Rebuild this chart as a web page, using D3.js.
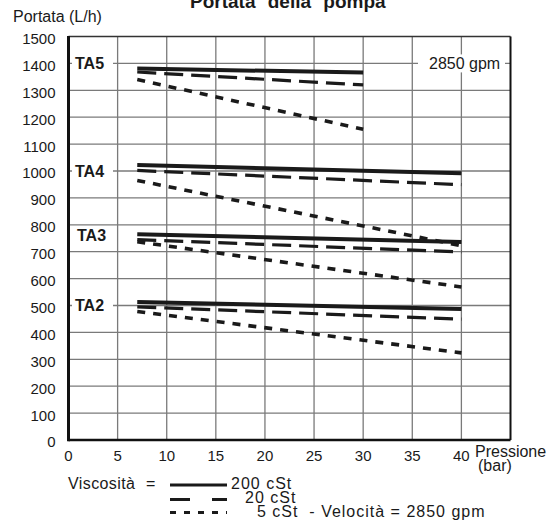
<!DOCTYPE html>
<html lang="it">
<head>
  <meta charset="utf-8">
  <title>Portata della pompa</title>
  <script src="https://d3js.org/d3.v7.min.js"></script>
  <style>
    body { margin: 0; background: #fff; }
    svg text { font-family: "Liberation Sans", Arial, Helvetica, sans-serif; fill: #1a1a1a; }
    .tick-label { font-size: 15px; }
    .label { font-size: 16px; }
    .legend { font-size: 16px; letter-spacing: 1px; white-space: pre; }
    .model { font-size: 16px; font-weight: bold; }
    .grid line { stroke: #7a7a7a; stroke-width: 1.3; }
  </style>
</head>
<body>
<svg id="chart" width="547" height="524"></svg>
<script>
// values
var xTicks = [0, 5, 10, 15, 20, 25, 30, 35, 40];
var yTicks = [0, 100, 200, 300, 400, 500, 600, 700, 800, 900, 1000, 1100, 1200, 1300, 1400, 1500];

var models = ["TA5", "TA4", "TA3", "TA2"];
var modelLabelY = [1400, 1000, 760, 500];   // where the model name sits (flow value)

// [pressure bar, flow L/h] at start and end of each curve
var ta5_200 = [[7, 1381], [30, 1366]];
var ta5_20  = [[7, 1368], [30, 1320]];
var ta5_5   = [[7, 1340], [30, 1155]];

var ta4_200 = [[7, 1022], [40, 992]];
var ta4_20  = [[7, 1002], [40, 949]];
var ta4_5   = [[7, 965],  [40, 722]];

var ta3_200 = [[7, 765], [40, 736]];
var ta3_20  = [[7, 745], [40, 699]];
var ta3_5   = [[7, 737], [40, 569]];

var ta2_200 = [[7, 513], [40, 487]];
var ta2_20  = [[7, 495], [40, 449]];
var ta2_5   = [[7, 478], [40, 324]];

var viscosity = ["200 cSt", "20 cSt", "5 cSt  - Velocità = 2850 gpm"];

var styles = {
  "200": { width: 4, dash: null },
  "20":  { width: 3.2, dash: "19,8" },
  "5":   { width: 3.6, dash: "8,8" }
};

var curves = [
  { d: ta5_200, s: "200" }, { d: ta5_20, s: "20" }, { d: ta5_5, s: "5" },
  { d: ta4_200, s: "200" }, { d: ta4_20, s: "20" }, { d: ta4_5, s: "5" },
  { d: ta3_200, s: "200" }, { d: ta3_20, s: "20" }, { d: ta3_5, s: "5" },
  { d: ta2_200, s: "200" }, { d: ta2_20, s: "20" }, { d: ta2_5, s: "5" }
];

var svg = d3.select("#chart");

var x = d3.scaleLinear().domain([0, 45]).range([68.5, 510.5]);
var y = d3.scaleLinear().domain([0, 1500]).range([440, 36.5]);

// grid
var grid = svg.append("g").attr("class", "grid");
grid.selectAll("line.v")
  .data(xTicks.filter(function(d) { return d > 0; }))
  .enter().append("line")
    .attr("x1", function(d) { return x(d); })
    .attr("x2", function(d) { return x(d); })
    .attr("y1", y(0)).attr("y2", y(1500));
grid.selectAll("line.h")
  .data(yTicks.filter(function(d) { return d > 0 && d < 1500; }))
  .enter().append("line")
    .attr("x1", x(0)).attr("x2", x(45))
    .attr("y1", function(d) { return y(d); })
    .attr("y2", function(d) { return y(d); });

// frame
svg.append("line").attr("x1", x(0)).attr("x2", x(45)).attr("y1", y(1500)).attr("y2", y(1500))
  .attr("stroke", "#333").attr("stroke-width", 1.3);
svg.append("line").attr("x1", x(45)).attr("x2", x(45)).attr("y1", y(1500)).attr("y2", y(0))
  .attr("stroke", "#111").attr("stroke-width", 2);
svg.append("line").attr("x1", x(0)).attr("x2", x(45)).attr("y1", y(0)).attr("y2", y(0))
  .attr("stroke", "#111").attr("stroke-width", 2.6);
svg.append("line").attr("x1", x(0)).attr("x2", x(0)).attr("y1", y(1500) - 0.6).attr("y2", y(0) + 1.3)
  .attr("stroke", "#111").attr("stroke-width", 3);

// model labels with white box breaking the grid line
models.forEach(function(m, i) {
  var cy = y(modelLabelY[i]);
  if (m !== "TA3") {
    svg.append("rect").attr("x", 72).attr("y", cy - 9).attr("width", 41).attr("height", 18).attr("fill", "#fff");
  }
  svg.append("text").attr("class", "model")
    .attr("x", m === "TA3" ? 77 : 75).attr("y", cy).attr("dy", "0.36em")
    .text(m);
});

// speed label on the 1400 line
svg.append("rect").attr("x", 418).attr("y", y(1400) - 9).attr("width", 87).attr("height", 18).attr("fill", "#fff");
svg.append("text").attr("class", "label")
  .attr("x", 429).attr("y", y(1400)).attr("dy", "0.36em")
  .text("2850 gpm");

// curves
var line = d3.line().x(function(d) { return x(d[0]); }).y(function(d) { return y(d[1]); });
svg.append("g").selectAll("path")
  .data(curves)
  .enter().append("path")
    .attr("d", function(c) { return line(c.d); })
    .attr("fill", "none")
    .attr("stroke", "#1a1a1a")
    .attr("stroke-width", function(c) { return styles[c.s].width; })
    .attr("stroke-dasharray", function(c) { return styles[c.s].dash; });

// axis tick labels
svg.append("g").selectAll("text")
  .data(yTicks)
  .enter().append("text")
    .attr("class", "tick-label")
    .attr("x", 55.5)
    .attr("y", function(d) { return y(d) + 2; })
    .attr("dy", "0.36em")
    .attr("text-anchor", "end")
    .text(function(d) { return d; });

svg.append("g").selectAll("text")
  .data(xTicks)
  .enter().append("text")
    .attr("class", "tick-label")
    .attr("x", function(d) { return x(d); })
    .attr("y", 461)
    .attr("text-anchor", "middle")
    .text(function(d) { return d; });

svg.append("text").attr("class", "label").attr("x", 475).attr("y", 457).text("Pressione");
svg.append("text").attr("class", "label").attr("x", 478).attr("y", 471).text("(bar)");
svg.append("text").attr("class", "label").attr("x", 13).attr("y", 22).text("Portata (L/h)");

// title, cut by the top edge as in the picture
svg.append("text")
  .attr("x", 190).attr("y", 8)
  .style("font-size", "19px").style("font-weight", "bold").style("word-spacing", "7px")
  .text("Portata della pompa");

// legend
svg.append("text").attr("class", "legend").style("letter-spacing", "0.4px")
  .attr("x", 68).attr("y", 489).text("Viscosità");
svg.append("text").attr("class", "legend").attr("x", 146).attr("y", 489).text("=");

var legendY = [485, 499.5, 512.5];
var legendKeys = ["200", "20", "5"];
var legendDash = [null, "20,22", "6,8"];
var legendTextX = [231, 245, 257];
var legendTextY = [489, 503, 517];
legendKeys.forEach(function(k, i) {
  svg.append("line")
    .attr("x1", 170).attr("x2", 227)
    .attr("y1", legendY[i]).attr("y2", legendY[i])
    .attr("stroke", "#1a1a1a").attr("stroke-width", 3.2)
    .attr("stroke-dasharray", legendDash[i]);
  svg.append("text").attr("class", "legend")
    .attr("x", legendTextX[i]).attr("y", legendTextY[i])
    .text(viscosity[i]);
});
</script>
</body>
</html>
